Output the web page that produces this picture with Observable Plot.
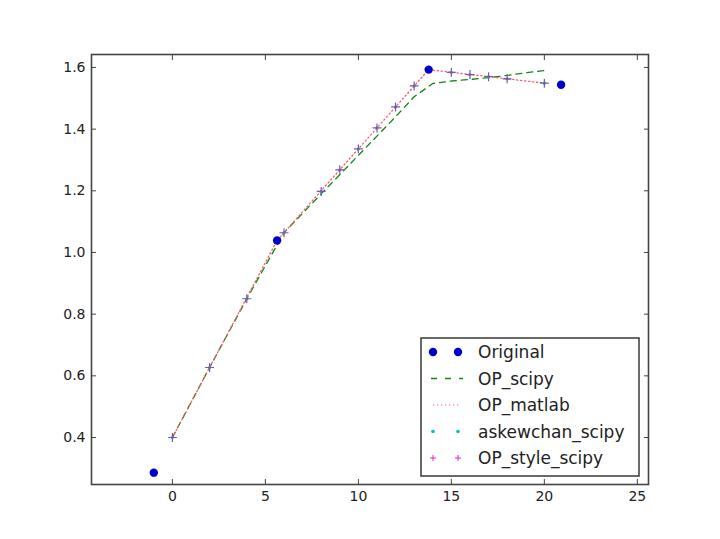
<!DOCTYPE html>
<html>
<head>
<meta charset="utf-8">
<script src="https://cdn.jsdelivr.net/npm/d3@7"></script>
<script src="https://cdn.jsdelivr.net/npm/@observablehq/plot@0.6"></script>
<style>
  html, body { margin: 0; padding: 0; background: #fff; }
  #wrap { position: relative; width: 720px; height: 539px; }
  #legend { position: absolute; left: 420px; top: 337px; }
</style>
</head>
<body>
<div id="wrap"></div>
<script>
// Original data points
const origX = [-1, 5.63, 13.78, 20.9];
const origY = [0.286, 1.039, 1.593, 1.544];

// Interpolated sample positions (markers)
const interpX = [0, 2, 4, 6, 8, 9, 10, 11, 12, 13, 15, 16, 17, 18, 20];
const askewchanY = [0.400, 0.627, 0.850, 1.064, 1.198, 1.268, 1.336, 1.404, 1.472, 1.540, 1.584, 1.577, 1.570, 1.563, 1.549];
const opStyleY   = [0.400, 0.627, 0.850, 1.064, 1.198, 1.268, 1.336, 1.404, 1.472, 1.540, 1.584, 1.577, 1.570, 1.563, 1.549];

// OP_matlab (dotted)
const matlabX = [0, 5.63, 13.78, 20];
const matlabY = [0.400, 1.039, 1.593, 1.549];

// OP_scipy (dashed)
const scipyX = [0, 2, 4, 6, 8, 10, 12, 13, 14, 15, 16, 17, 18, 19, 20];
const scipyY = [0.400, 0.627, 0.850, 1.064, 1.190, 1.315, 1.440, 1.505, 1.548, 1.556, 1.561, 1.567, 1.574, 1.583, 1.590];

const xTicks = [0, 5, 10, 15, 20, 25];
const yTicks = [0.4, 0.6, 0.8, 1.0, 1.2, 1.4, 1.6];
const xDomain = [-4.35, 25.6];
const yDomain = [0.2476, 1.642];

const seriesNames = ["Original", "OP_scipy", "OP_matlab", "askewchan_scipy", "OP_style_scipy"];
const colors = {
  Original: "#0000cc",
  OP_scipy: "#118811",
  OP_matlab: "#ff5a6e",
  askewchan_scipy: "#00bfbf",
  OP_style_scipy: "#d040d0"
};

const orig = origX.map((x, i) => ({x, y: origY[i]}));
const askew = interpX.map((x, i) => ({x, y: askewchanY[i]}));
const opstyle = interpX.map((x, i) => ({x, y: opStyleY[i]}));
const matlab = matlabX.map((x, i) => ({x, y: matlabY[i]}));
const scipy = scipyX.map((x, i) => ({x, y: scipyY[i]}));

const fmtY = d3.format(".1f");

const chart = Plot.plot({
  width: 720,
  height: 539,
  marginLeft: 91,
  marginRight: 72,
  marginTop: 54,
  marginBottom: 55,
  style: {fontFamily: "'DejaVu Sans', sans-serif", fontSize: "14px", color: "#222", background: "#fff"},
  x: {domain: xDomain},
  y: {domain: yDomain},
  marks: [
    Plot.line(scipy, {x: "x", y: "y", stroke: colors.OP_scipy, strokeWidth: 1.3, strokeDasharray: "6,5"}),
    Plot.line(matlab, {x: "x", y: "y", stroke: colors.OP_matlab, strokeWidth: 1.3, strokeDasharray: "1.3,2.7"}),
    Plot.dot(askew, {x: "x", y: "y", r: 1.6, fill: colors.askewchan_scipy, stroke: null}),
    Plot.dot(opstyle, {x: "x", y: "y", symbol: "plus", r: 3, stroke: "#7a5aa8", strokeWidth: 1.2}),
    Plot.dot(orig, {x: "x", y: "y", r: 4.2, fill: colors.Original, stroke: null}),
    Plot.axisX(xTicks, {tickSize: 0, tickPadding: 7, label: null, fontSize: 14}),
    Plot.axisX(xTicks, {anchor: "bottom", tickSize: -5, tickFormat: () => "", label: null, stroke: "#444"}),
    Plot.axisX(xTicks, {anchor: "top", tickSize: -5, tickFormat: () => "", label: null, stroke: "#444"}),
    Plot.axisY(yTicks, {tickSize: 0, tickPadding: 6, tickFormat: fmtY, label: null, fontSize: 14}),
    Plot.axisY(yTicks, {anchor: "left", tickSize: -5, tickFormat: () => "", label: null, stroke: "#444"}),
    Plot.axisY(yTicks, {anchor: "right", tickSize: -5, tickFormat: () => "", label: null, stroke: "#444"}),
    Plot.frame({stroke: "#444", strokeWidth: 1.6})
  ]
});
document.getElementById("wrap").appendChild(chart);

// Legend (inside the axes, lower right)
const lw = 220, lh = 140, rowH = 26.5, row0 = 15;
const leg = d3.create("svg")
  .attr("id", "legend")
  .attr("width", lw)
  .attr("height", lh)
  .style("font-family", "'DejaVu Sans', sans-serif");
leg.append("rect").attr("x", 1).attr("y", 1).attr("width", lw - 2).attr("height", lh - 2)
  .attr("fill", "#fff").attr("stroke", "#444").attr("stroke-width", 1.6);
seriesNames.forEach((name, i) => {
  const cy = row0 + i * rowH;
  const g = leg.append("g");
  const c = colors[name];
  if (name === "Original") {
    [13, 38].forEach(cx => g.append("circle").attr("cx", cx).attr("cy", cy).attr("r", 4.2).attr("fill", c));
  } else if (name === "OP_scipy") {
    g.append("line").attr("x1", 9).attr("x2", 43).attr("y1", cy).attr("y2", cy)
      .attr("stroke", c).attr("stroke-width", 1.3).attr("stroke-dasharray", "6,8").attr("stroke-dashoffset", -2);
  } else if (name === "OP_matlab") {
    g.append("line").attr("x1", 13).attr("x2", 39).attr("y1", cy).attr("y2", cy)
      .attr("stroke", c).attr("stroke-width", 1.2).attr("stroke-dasharray", "1.2,2.8");
  } else if (name === "askewchan_scipy") {
    [13, 38].forEach(cx => g.append("circle").attr("cx", cx).attr("cy", cy).attr("r", 1.8).attr("fill", c));
  } else {
    [13, 38].forEach(cx => {
      g.append("line").attr("x1", cx - 3).attr("x2", cx + 3).attr("y1", cy).attr("y2", cy).attr("stroke", c).attr("stroke-width", 1.1);
      g.append("line").attr("x1", cx).attr("x2", cx).attr("y1", cy - 3).attr("y2", cy + 3).attr("stroke", c).attr("stroke-width", 1.1);
    });
  }
  g.append("text").attr("x", 58).attr("y", cy).attr("dy", "0.36em")
    .attr("font-size", 17).attr("fill", "#222").text(name);
});
document.getElementById("wrap").appendChild(leg.node());
</script>
</body>
</html>
